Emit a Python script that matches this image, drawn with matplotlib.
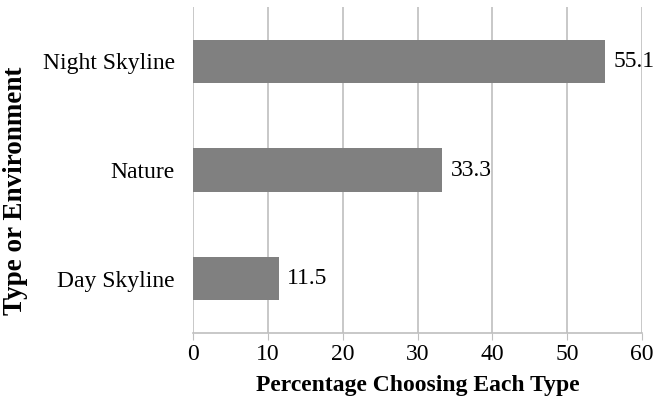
import matplotlib
matplotlib.use("Agg")
import matplotlib.pyplot as plt

categories = ["Day Skyline", "Nature", "Night Skyline"]
values = [11.5, 33.3, 55.1]
xticks = [0, 10, 20, 30, 40, 50, 60]

plt.rcParams['font.family'] = ['Liberation Serif', 'DejaVu Serif']

fig = plt.figure(figsize=(6.57, 3.99), dpi=100)
ax = fig.add_axes([193/657, 1 - 333/399, (642-193)/657, (333-7)/399])

ax.barh(range(len(categories)), values, height=0.4, color="#808080", zorder=3)
for i, v in enumerate(values):
    ax.text(v + 1.1, i, f"{v}", va="center", ha="left", fontsize=17, color="#000000", zorder=4)

ax.set_xlim(0, 60)
ax.set_ylim(-0.5, 2.5)
ax.set_xticks(xticks)
ax.set_xticklabels([str(t) for t in xticks])
ax.set_yticks(range(len(categories)))
ax.set_yticklabels(categories)
ax.tick_params(axis="x", length=5, color="#bfbfbf", labelsize=17, pad=3)
ax.tick_params(axis="y", length=0, labelsize=17, pad=13)
ax.grid(axis="x", color="#bfbfbf", linewidth=1.2, zorder=0)
for s in ["top", "right", "left"]:
    ax.spines[s].set_visible(False)
ax.spines["bottom"].set_color("#bfbfbf")
ax.spines["bottom"].set_linewidth(1.2)

ax.set_xlabel("Percentage Choosing Each Type", fontsize=17, fontweight="bold", labelpad=7)
fig.text(16/657, 1 - 191/399, "Type or Environment", rotation=90, fontsize=19.5,
         fontweight="bold", ha="center", va="center")

fig.savefig("out.png", dpi=100)
